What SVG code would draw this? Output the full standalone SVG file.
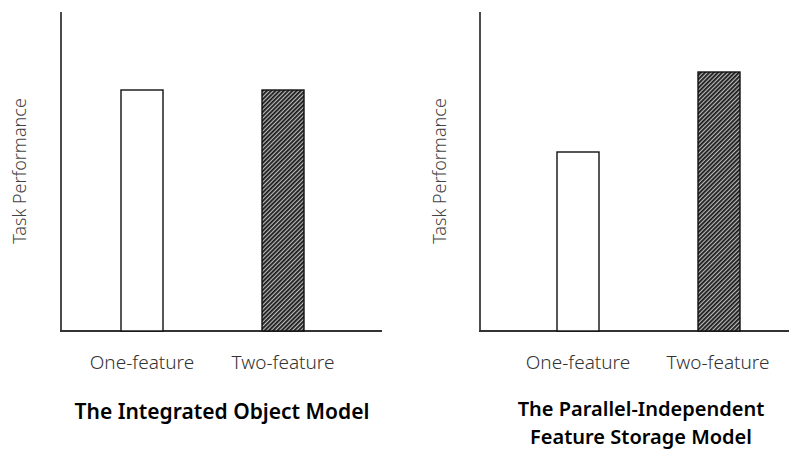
<svg xmlns="http://www.w3.org/2000/svg" width="789" height="452" viewBox="0 0 789 452">
<style>
.axis{stroke:#111;stroke-width:1.5;fill:none}
.base{stroke:#333;stroke-width:2.2;fill:none}
.bar{stroke:#111;stroke-width:1.4}
.open{fill:#fff}
.hatch{fill:url(#hatch)}
.tick{font-family:"Noto Sans","Open Sans","Liberation Sans",sans-serif;font-size:19px;font-weight:300;fill:#333;text-anchor:middle}
.ylab{font-family:"Noto Sans","Open Sans","Liberation Sans",sans-serif;font-size:18px;font-weight:300;fill:#444;text-anchor:middle}
.title{font-family:"Noto Sans","Open Sans","Liberation Sans",sans-serif;font-size:21px;font-weight:600;fill:#000;text-anchor:middle}
.title2{font-size:20px}
</style>
<defs>
<pattern id="hatch" patternUnits="userSpaceOnUse" width="3" height="3" patternTransform="rotate(45)">
<rect width="3" height="3" fill="#bbb"/>
<rect width="1.8" height="3" fill="#1a1a1a"/>
</pattern>
</defs>
<rect width="789" height="452" fill="#fff"/>
<g id="chart-left">
<line class="axis" x1="61" y1="12" x2="61" y2="331"/>
<line class="base" x1="60" y1="331" x2="382" y2="331"/>
<g id="left-one"><rect class="bar open" x="121" y="90" width="42" height="241"/></g>
<g id="left-two"><rect class="bar hatch" x="262" y="90" width="42" height="241"/></g>
<text class="ylab" transform="translate(26,171) rotate(-90)">Task Performance</text>
<text class="tick" x="142" y="369">One-feature</text>
<text class="tick" x="283" y="369">Two-feature</text>
<text class="title" x="222" y="419">The Integrated Object Model</text>
</g>
<g id="chart-right">
<line class="axis" x1="480" y1="12" x2="480" y2="331"/>
<line class="base" x1="479" y1="331" x2="789" y2="331"/>
<g id="right-one"><rect class="bar open" x="557" y="152" width="42" height="179"/></g>
<g id="right-two"><rect class="bar hatch" x="698" y="72" width="42" height="259"/></g>
<text class="ylab" transform="translate(446,171) rotate(-90)">Task Performance</text>
<text class="tick" x="578" y="369">One-feature</text>
<text class="tick" x="718" y="369">Two-feature</text>
<text class="title title2" x="641" y="416">The Parallel-Independent</text>
<text class="title title2" x="641" y="444">Feature Storage Model</text>
</g>
</svg>
